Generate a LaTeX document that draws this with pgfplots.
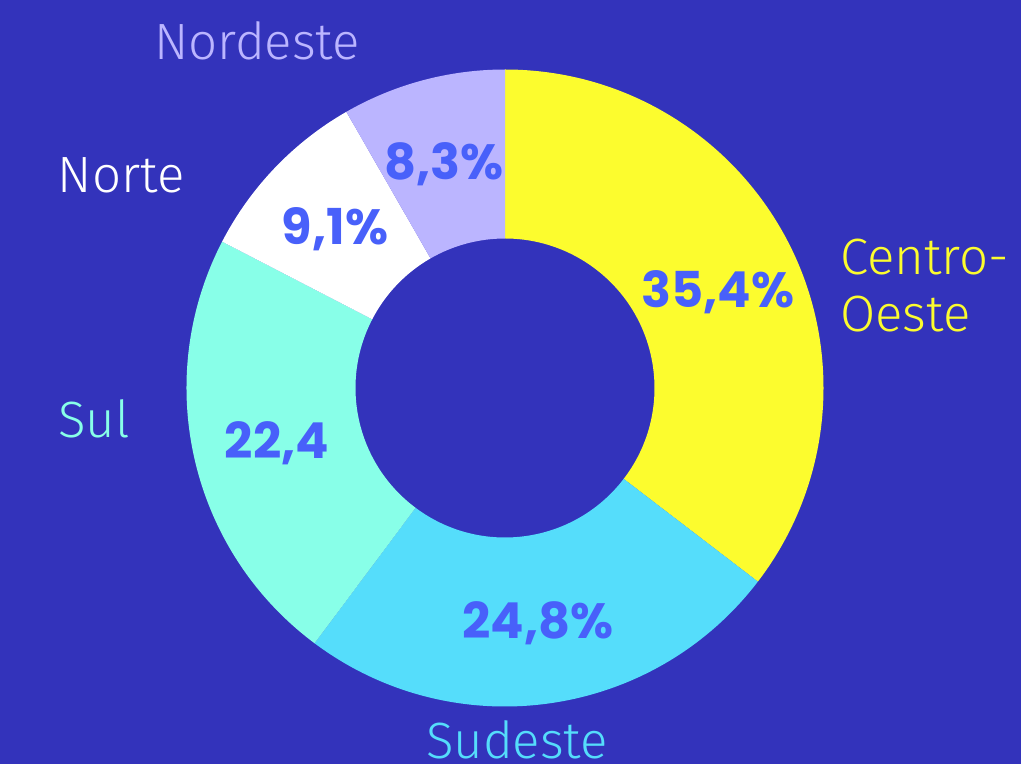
\documentclass[border=0pt]{standalone}
\usepackage{pgfplots}
\usepackage{pgfplotstable}
\pgfplotsset{compat=1.18}
\usepackage{fontspec}
\setmainfont{Fira Sans}[UprightFont=* Light]
\newfontfamily\pctfont{Poppins}
\definecolor{bg}{RGB}{51,51,187}
\definecolor{cYellow}{RGB}{252,252,46}
\definecolor{cCyan}{RGB}{85,221,251}
\definecolor{cAqua}{RGB}{136,255,232}
\definecolor{cWhite}{RGB}{255,255,255}
\definecolor{cLav}{RGB}{187,181,255}
\definecolor{cPct}{RGB}{72,96,250}

\pgfplotstableread{
region pct
CentroOeste 35.4
Sudeste 24.8
Sul 22.4
Norte 9.1
Nordeste 8.3
}\regiondata

\newcommand{\namefont}{\fontsize{51}{57}\selectfont}
\newcommand{\pfont}{\pctfont\bfseries\fontsize{49.5}{54}\selectfont}

\begin{document}
\begin{tikzpicture}
% cumulative angles (clockwise from top)
\pgfplotstablegetelem{0}{pct}\of\regiondata \pgfmathsetmacro{\pA}{\pgfplotsretval}
\pgfplotstablegetelem{1}{pct}\of\regiondata \pgfmathsetmacro{\pB}{\pgfplotsretval}
\pgfplotstablegetelem{2}{pct}\of\regiondata \pgfmathsetmacro{\pC}{\pgfplotsretval}
\pgfplotstablegetelem{3}{pct}\of\regiondata \pgfmathsetmacro{\pD}{\pgfplotsretval}
\pgfplotstablegetelem{4}{pct}\of\regiondata \pgfmathsetmacro{\pE}{\pgfplotsretval}
\pgfmathsetmacro{\aO}{90}
\pgfmathsetmacro{\aA}{\aO-3.6*\pA}
\pgfmathsetmacro{\aB}{\aA-3.6*\pB}
\pgfmathsetmacro{\aC}{\aB-3.6*\pC}
\pgfmathsetmacro{\aD}{\aC-3.6*\pD}
\pgfmathsetmacro{\aE}{\aD-3.6*\pE}
\def\cx{505}\def\cy{376}\def\Ro{318.5}\def\Ri{149.5}
\newcommand{\donutwedge}[3]{%
  \fill[#3] (axis cs:{\cx+\Ro*cos(#1)},{\cy+\Ro*sin(#1)})
    arc[start angle=#1,end angle=#2,radius=\Ro pt]
    -- (axis cs:{\cx+\Ri*cos(#2)},{\cy+\Ri*sin(#2)})
    arc[start angle=#2,end angle=#1,radius=\Ri pt] -- cycle;}
\begin{axis}[
  at={(0,0)}, anchor=south west,
  width=1021pt, height=764pt, scale only axis,
  xmin=0, xmax=1021, ymin=0, ymax=764,
  hide axis, clip=false]
\fill[bg] (axis cs:0,0) rectangle (axis cs:1021,764);
\donutwedge{\aO}{\aA}{cYellow}
\donutwedge{\aA}{\aB}{cCyan}
\donutwedge{\aB}{\aC}{cAqua}
\donutwedge{\aC}{\aD}{cWhite}
\donutwedge{\aD}{\aE}{cLav}
% category names
\node[anchor=base, text=cLav, inner sep=0pt, font=\namefont] at (axis cs:257,704) {Nordeste};
\node[anchor=base, text=cWhite, inner sep=0pt, font=\namefont] at (axis cs:121,571) {Norte};
\node[anchor=base west, text=cYellow, inner sep=0pt, font=\namefont] at (axis cs:840,489) {Centro-};
\node[anchor=base west, text=cYellow, inner sep=0pt, font=\namefont] at (axis cs:840,432) {Oeste};
\node[anchor=base, text=cAqua, inner sep=0pt, font=\namefont] at (axis cs:94,326) {Sul};
\node[anchor=base, text=cCyan, inner sep=0pt, font=\namefont] at (axis cs:517,6) {Sudeste};
% values
\node[anchor=base, text=cPct, inner sep=0pt, font=\pfont] at (axis cs:444,584) {8,3\%};
\node[anchor=base, text=cPct, inner sep=0pt, font=\pfont] at (axis cs:335,519) {9,1\%};
\node[anchor=base, text=cPct, inner sep=0pt, font=\pfont] at (axis cs:718,456) {35,4\%};
\node[anchor=base, text=cPct, inner sep=0pt, font=\pfont] at (axis cs:277,305) {22,4};
\node[anchor=base, text=cPct, inner sep=0pt, font=\pfont] at (axis cs:538,125) {24,8\%};
\end{axis}
\pgfresetboundingbox
\path[use as bounding box] (0,0) rectangle (1021pt,764pt);
\end{tikzpicture}
\end{document}
